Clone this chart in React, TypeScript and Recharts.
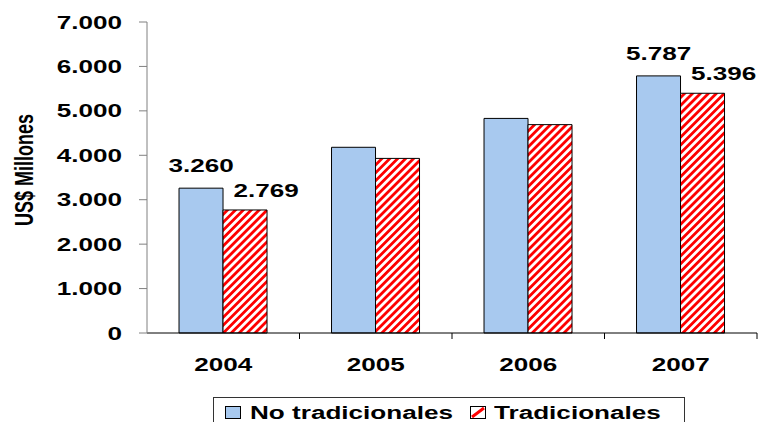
import React from 'react';
import { BarChart, Bar, XAxis, YAxis, LabelList } from 'recharts';

const years = ['2004', '2005', '2006', '2007'];
const noTradicionales = [3260, 4180, 4830, 5787];
const tradicionales = [2769, 3930, 4690, 5396];
const labeledYears = ['2004', '2007'];
const yTicks = [0, 1000, 2000, 3000, 4000, 5000, 6000, 7000];

const data = years.map((year, i) => ({ year, noTrad: noTradicionales[i], trad: tradicionales[i] }));

// the source image is stretched sideways, so text is widened to match
const STRETCH = 1.45;
const FONT = '"Liberation Sans", Arial, sans-serif';
const BLUE = '#A8C9EF';

const fmt = (v: number) => String(v).replace(/\B(?=(\d{3})+(?!\d))/g, '.');

const WideText = ({ x, y, anchor = 'middle', children }: any) => (
  <text
    transform={`translate(${x},${y}) scale(${STRETCH},1)`}
    textAnchor={anchor}
    fontFamily={FONT}
    fontWeight="bold"
    fontSize={18}
    fill="#000"
  >
    {children}
  </text>
);

const YTick = ({ x, y, payload }: any) => (
  <WideText x={x} y={y + 6.5} anchor="end">{fmt(payload.value)}</WideText>
);

const XTick = ({ x, y, payload, index, width }: any) => {
  const band = (width || 610) / years.length;
  const left = x - band / 2;
  const right = x + band / 2;
  return (
    <g>
      {index > 0 && <line x1={left} x2={left} y1={y} y2={y + 6} stroke="#000" />}
      {index === years.length - 1 && <line x1={right} x2={right} y1={y} y2={y + 6} stroke="#000" />}
      <WideText x={x} y={y + 38}>{payload.value}</WideText>
    </g>
  );
};

const YLabel = () => (
  <text
    transform={`translate(33,170) rotate(-90) scale(1,${STRETCH})`}
    textAnchor="middle"
    fontFamily={FONT}
    fontWeight="bold"
    fontSize={18}
    fill="#000"
  >
    US$ Millones
  </text>
);

const makeLabel = (dx: number, dy: number) => (props: any) => {
  const { x, y, width, value, index } = props;
  if (!labeledYears.includes(years[index])) return null;
  return <WideText x={x + width / 2 + dx} y={y + dy}>{fmt(value)}</WideText>;
};

const LegendText = ({ children }: any) => (
  <span
    style={{
      display: 'inline-block',
      transform: `scaleX(${STRETCH})`,
      transformOrigin: 'left center',
      fontFamily: FONT,
      fontWeight: 'bold',
      fontSize: 18,
      lineHeight: '18px',
      color: '#000',
    }}
  >
    {children}
  </span>
);

export default function App() {
  return (
    <div style={{ position: 'absolute', left: 0, top: 0, width: 771, height: 422, background: '#fff', overflow: 'hidden' }}>
      <BarChart
        width={771}
        height={422}
        data={data}
        margin={{ top: 22, right: 14, bottom: 0, left: 0 }}
        barCategoryGap="21%"
        barGap={0}
      >
        <defs>
          <pattern id="hatch" width="5.6" height="5.6" patternUnits="userSpaceOnUse" patternTransform="rotate(45)">
            <rect width="5.6" height="5.6" fill="#fff" />
            <rect width="2.8" height="5.6" fill="#FF0000" />
          </pattern>
        </defs>
        <XAxis
          dataKey="year"
          height={89}
          stroke="#000"
          tickLine={false}
          tickSize={0}
          tickMargin={0}
          tick={<XTick />}
          interval={0}
        />
        <YAxis
          width={147}
          domain={[0, 7000]}
          ticks={yTicks}
          stroke="#808080"
          tickSize={8}
          tickMargin={17}
          tick={<YTick />}
          label={<YLabel />}
          interval={0}
        />
        <Bar dataKey="noTrad" fill={BLUE} stroke="#000" strokeWidth={1} isAnimationActive={false}>
          <LabelList dataKey="noTrad" content={makeLabel(0, -16)} />
        </Bar>
        <Bar dataKey="trad" fill="url(#hatch)" stroke="#000" strokeWidth={1} isAnimationActive={false}>
          <LabelList dataKey="trad" content={makeLabel(21, -13)} />
        </Bar>
      </BarChart>
      <div
        style={{
          position: 'absolute',
          left: 213,
          top: 397,
          width: 472,
          height: 40,
          border: '1px solid #333',
          boxSizing: 'border-box',
        }}
      >
        <svg width={16} height={13} style={{ position: 'absolute', left: 11, top: 8 }}>
          <rect x={0.5} y={0.5} width={15} height={12} fill={BLUE} stroke="#000" />
        </svg>
        <div style={{ position: 'absolute', left: 36, top: 6 }}>
          <LegendText>No tradicionales</LegendText>
        </div>
        <svg width={16} height={13} style={{ position: 'absolute', left: 256, top: 8 }}>
          <rect x={0.5} y={0.5} width={15} height={12} fill="#fff" stroke="#000" />
          <line x1={2} y1={11} x2={14} y2={2} stroke="#FF0000" strokeWidth={3} />
        </svg>
        <div style={{ position: 'absolute', left: 280, top: 6 }}>
          <LegendText>Tradicionales</LegendText>
        </div>
      </div>
    </div>
  );
}
